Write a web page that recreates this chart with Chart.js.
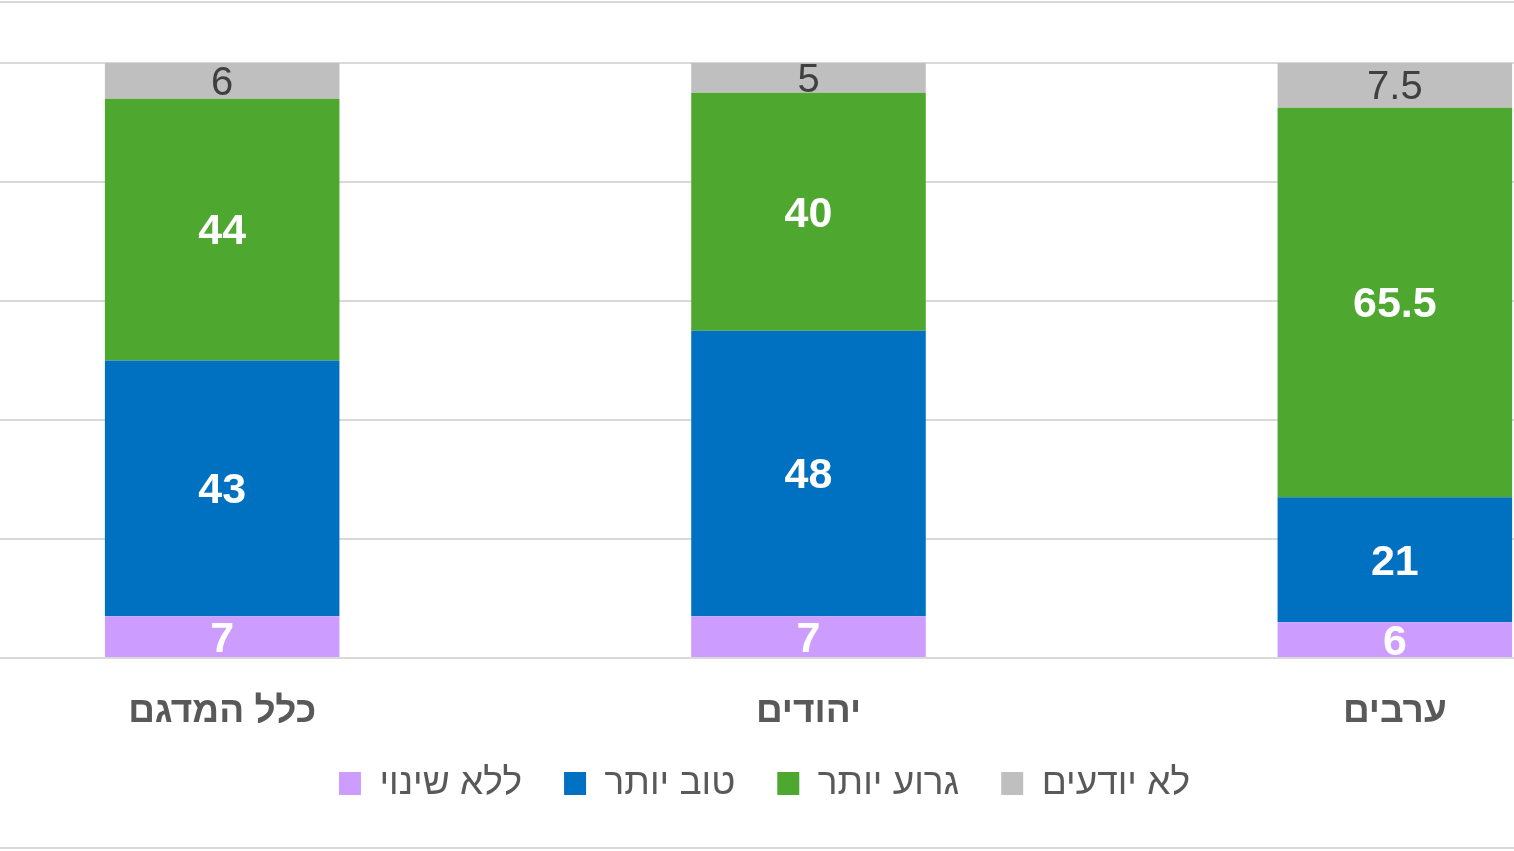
<!DOCTYPE html>
<html lang="he">
<head>
<meta charset="utf-8">
<title>סקר</title>
<script src="https://cdn.jsdelivr.net/npm/chart.js@4.4.1/dist/chart.umd.min.js"></script>
<style>
  html, body { margin: 0; padding: 0; background: #fff; overflow: hidden; }
  body { width: 1514px; height: 851px; position: relative; }
  .frame-top, .frame-bottom { position: absolute; left: 0; width: 1514px; height: 2px; background: #d9d9d9; }
  .frame-top { top: 1px; }
  .frame-bottom { top: 847px; }
  #wrap { position: absolute; left: -159px; top: 0; width: 1847px; height: 851px; }
</style>
</head>
<body>
<div class="frame-top"></div>
<div class="frame-bottom"></div>
<div id="wrap"><canvas id="chart"></canvas></div>
<script>
/* ── DATA ── */
const categories = ['כלל המדגם', 'יהודים', 'ערבים'];
const noChange   = [7, 7, 6];        // ללא שינוי
const better     = [43, 48, 21];     // טוב יותר
const worse      = [44, 40, 65.5];   // גרוע יותר
const dontKnow   = [6, 5, 7.5];      // לא יודעים
const yTicks     = [0, 20, 40, 60, 80, 100];

const FONT = '"Liberation Sans", Arial, sans-serif';

/* ── VALUE LABELS ── */
const valueLabels = {
  id: 'valueLabels',
  afterDatasetsDraw(chart) {
    const ctx = chart.ctx;
    chart.data.datasets.forEach((ds, i) => {
      const meta = chart.getDatasetMeta(i);
      meta.data.forEach((bar, j) => {
        const v = ds.data[j];
        const cy = (bar.y + bar.base) / 2;
        ctx.save();
        ctx.textAlign = 'center';
        ctx.textBaseline = 'middle';
        if (ds.labelStyle === 'gray') {
          ctx.fillStyle = '#404040';
          ctx.font = '40px ' + FONT;
        } else {
          ctx.fillStyle = '#ffffff';
          ctx.font = 'bold 43px ' + FONT;
        }
        ctx.fillText(String(v), bar.x, cy + 3);
        ctx.restore();
      });
    });
  }
};

new Chart(document.getElementById('chart'), {
  type: 'bar',
  data: {
    labels: categories,
    datasets: [
      { label: 'ללא שינוי', data: noChange, backgroundColor: '#cc9cff' },
      { label: 'טוב יותר',  data: better,   backgroundColor: '#0070c0' },
      { label: 'גרוע יותר', data: worse,    backgroundColor: '#4ea72e' },
      { label: 'לא יודעים', data: dontKnow, backgroundColor: '#bfbfbf', labelStyle: 'gray' },
    ]
  },
  options: {
    responsive: true,
    maintainAspectRatio: false,
    animation: false,
    devicePixelRatio: 1,
    layout: { padding: { top: 63, bottom: 39, left: 0, right: 0 } },
    datasets: { bar: { categoryPercentage: 1, barPercentage: 0.4, borderWidth: 0 } },
    plugins: {
      tooltip: { enabled: false },
      legend: {
        position: 'bottom',
        labels: {
          boxWidth: 22, boxHeight: 23, padding: 42,
          color: '#595959',
          font: { family: FONT, size: 37 }
        }
      }
    },
    scales: {
      x: {
        stacked: true,
        afterFit: s => { s.height = 65; },
        grid: { display: false, drawTicks: false },
        border: { display: false },
        ticks: { color: '#595959', padding: 35, font: { family: FONT, size: 37, weight: 'bold', lineHeight: 1 } }
      },
      y: {
        stacked: true,
        min: 0, max: 100,
        afterFit: s => { s.width = 88; },
        afterBuildTicks: s => { s.ticks = yTicks.map(v => ({ value: v })); },
        grid: { color: '#d9d9d9', lineWidth: 2, drawTicks: false },
        border: { display: false },
        ticks: { display: false }
      }
    }
  },
  plugins: [valueLabels]
});
</script>
</body>
</html>
